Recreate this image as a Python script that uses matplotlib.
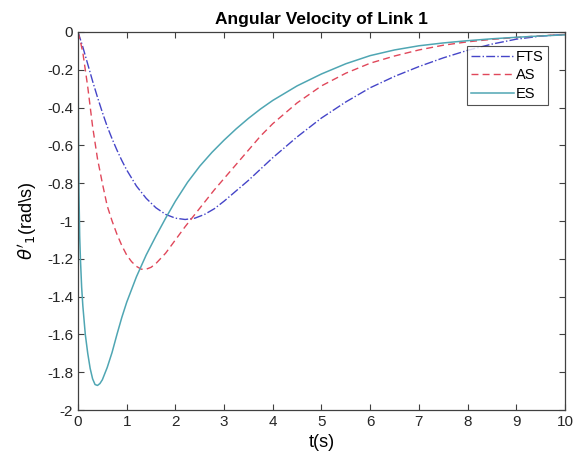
import matplotlib
matplotlib.use("Agg")
import matplotlib.pyplot as plt
from matplotlib import rcParams

rcParams["font.family"] = ["Liberation Sans", "DejaVu Sans"]
rcParams["axes.unicode_minus"] = False
rcParams["mathtext.fontset"] = "dejavusans"

# values
t_fts = [0, 0.1, 0.2, 0.3, 0.4, 0.5, 0.6, 0.7, 0.8, 0.9, 1.0, 1.2, 1.4, 1.6, 1.8,
         2.0, 2.2, 2.4, 2.6, 2.8, 3.0, 3.25, 3.5, 3.75, 4.0, 4.5, 5.0, 5.5, 6.0,
         6.5, 7.0, 7.5, 8.0, 8.5, 9.0, 9.5, 10.0]
fts = [0, -0.08, -0.17, -0.26, -0.345, -0.425, -0.5, -0.565, -0.625, -0.68, -0.73,
       -0.815, -0.88, -0.93, -0.965, -0.985, -0.992, -0.985, -0.965, -0.935, -0.895,
       -0.84, -0.785, -0.725, -0.665, -0.555, -0.455, -0.37, -0.295, -0.235, -0.183,
       -0.137, -0.097, -0.064, -0.038, -0.022, -0.013]

t_as = [0, 0.05, 0.1, 0.2, 0.3, 0.4, 0.5, 0.6, 0.7, 0.8, 0.9, 1.0, 1.1, 1.2, 1.3,
        1.4, 1.5, 1.6, 1.8, 2.0, 2.2, 2.4, 2.6, 2.8, 3.0, 3.25, 3.5, 3.75, 4.0, 4.5,
        5.0, 5.5, 6.0, 6.5, 7.0, 7.5, 8.0, 8.5, 9.0, 9.5, 10.0]
as_ = [0, -0.05, -0.11, -0.29, -0.5, -0.67, -0.8, -0.92, -1.0, -1.07, -1.13, -1.18,
       -1.215, -1.24, -1.255, -1.255, -1.245, -1.225, -1.17, -1.1, -1.03, -0.965,
       -0.9, -0.835, -0.775, -0.7, -0.625, -0.55, -0.485, -0.375, -0.285, -0.218,
       -0.165, -0.127, -0.095, -0.07, -0.052, -0.039, -0.029, -0.02, -0.013]

t_es = [0, 0.005, 0.01, 0.02, 0.035, 0.05, 0.075, 0.1, 0.15, 0.2, 0.25, 0.3, 0.35,
        0.4, 0.45, 0.5, 0.6, 0.7, 0.8, 0.9, 1.0, 1.2, 1.4, 1.6, 1.8, 2.0, 2.25, 2.5,
        2.75, 3.0, 3.25, 3.5, 3.75, 4.0, 4.5, 5.0, 5.5, 6.0, 6.5, 7.0, 7.5, 8.0,
        8.5, 9.0, 9.5, 10.0]
es = [0, -0.3, -0.55, -0.85, -1.08, -1.2, -1.35, -1.45, -1.6, -1.7, -1.78, -1.835,
      -1.865, -1.87, -1.86, -1.84, -1.775, -1.695, -1.6, -1.51, -1.43, -1.295, -1.18,
      -1.08, -0.985, -0.895, -0.795, -0.71, -0.637, -0.572, -0.512, -0.457, -0.407,
      -0.362, -0.285, -0.222, -0.168, -0.125, -0.095, -0.073, -0.058, -0.046,
      -0.036, -0.028, -0.021, -0.015]

x_ticks = [0, 1, 2, 3, 4, 5, 6, 7, 8, 9, 10]
y_ticks = [0, -0.2, -0.4, -0.6, -0.8, -1, -1.2, -1.4, -1.6, -1.8, -2]
y_tick_labels = ["0", "-0.2", "-0.4", "-0.6", "-0.8", "-1", "-1.2", "-1.4", "-1.6",
                 "-1.8", "-2"]


def main():
    fig = plt.figure(figsize=(5.76, 4.67), dpi=100)
    ax = fig.add_axes([0.1354, 0.122, 0.8455, 0.8095])

    ax.plot(t_fts, fts, color="#4545C8", linestyle="-.", linewidth=1.0, label="FTS")
    ax.plot(t_as, as_, color="#E0475A", linestyle=(0, (5, 3)), linewidth=1.0, label="AS")
    ax.plot(t_es, es, color="#4FA6B3", linestyle="-", linewidth=1.1, label="ES")

    ax.set_xlim(0, 10)
    ax.set_ylim(-2, 0)
    ax.set_xticks(x_ticks)
    ax.set_yticks(y_ticks)
    ax.set_yticklabels(y_tick_labels)
    ax.tick_params(direction="in", top=True, right=True, labelsize=11,
                   length=4, color="#404040", labelcolor="#262626")
    for s in ax.spines.values():
        s.set_color("#404040")
        s.set_linewidth(0.9)

    ax.set_title("Angular Velocity of Link 1", fontsize=12.5, fontweight="bold", pad=6)
    ax.set_xlabel("t(s)", fontsize=13, labelpad=4)
    ax.set_ylabel(r"$\theta'_1$(rad\s)", fontsize=13, labelpad=6)

    leg = ax.legend(loc="upper right", bbox_to_anchor=(0.965, 0.964), fontsize=10.5,
                    fancybox=False, edgecolor="#262626", handlelength=2.9,
                    handletextpad=0.15, borderpad=0.3, labelspacing=0.3,
                    borderaxespad=0)
    leg.get_frame().set_linewidth(0.8)

    fig.savefig("out.png", dpi=100)


if __name__ == "__main__":
    main()
